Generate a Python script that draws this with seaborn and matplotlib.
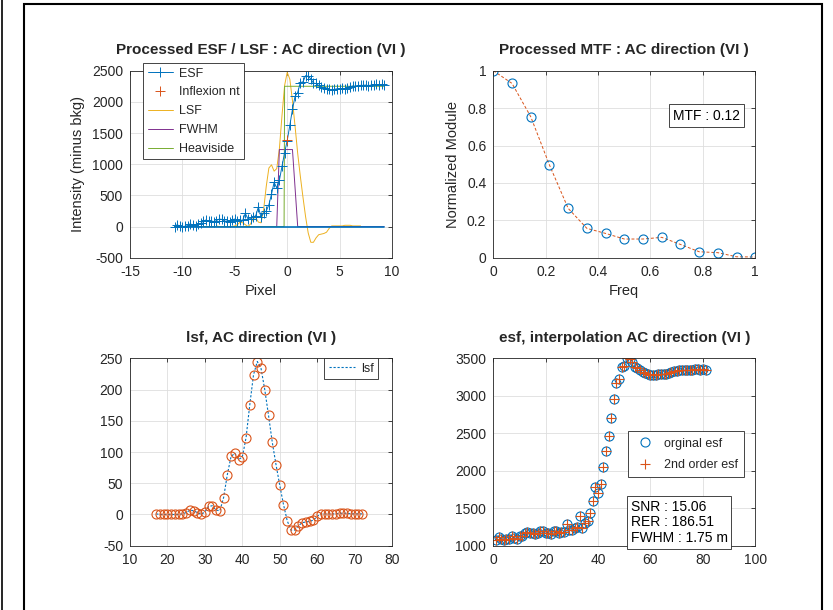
import numpy as np
import pandas as pd
import matplotlib
matplotlib.use('Agg')
import matplotlib.pyplot as plt
import seaborn as sns
from matplotlib.patches import Rectangle
from matplotlib.lines import Line2D

# MATLAB default colour order
BLUE = '#0072BD'
ORANGE = '#D95319'
YELLOW = '#EDB120'
PURPLE = '#7E2F8E'
GREEN = '#77AC30'
DARK = '#262626'

# esf samples (index 1..81)
esf_idx = np.arange(1, 82)
esf_orig = [1075, 1110, 1085, 1080, 1085, 1095, 1125, 1100, 1085, 1125,
            1130, 1170, 1185, 1165, 1170, 1160, 1175, 1200, 1195, 1165,
            1170, 1160, 1190, 1200, 1165, 1185, 1180, 1290, 1205, 1205,
            1230, 1255, 1395, 1230, 1300, 1330, 1430, 1600, 1790, 1700,
            1820, 2045, 2265, 2460, 2705, 2960, 3170, 3230, 3390, 3400,
            3500, 3490, 3450, 3380, 3375, 3345, 3320, 3300, 3290, 3280,
            3275, 3280, 3290, 3290, 3295, 3290, 3310, 3320, 3335, 3330,
            3340, 3345, 3345, 3350, 3340, 3350, 3355, 3360, 3350, 3360,
            3350]
esf_2nd = list(esf_orig)  # both series sit on top of each other

# lsf samples (index 17..72), bottom left panel
lsf_idx = np.arange(17, 73)
lsf_vals = [1, 0, 0, 0, 0, 0, 0, 1, 3, 7,
            6, 3, 0, 4, 13, 14, 7, 6, 27, 64,
            93, 98, 88, 92, 123, 176, 224, 245, 234, 200,
            159, 116, 80, 47, 16, -10, -25, -25, -18, -13,
            -12, -11, -9, -3, 1, 1, 1, 1, 1, 2,
            2, 2, 1, 1, 1, 1]

# processed ESF/LSF panel: pixel = (index - centre) / 4, intensity minus background
bkg = 1080
centre = 44
lsf_scale = 10.1
inflexion_x = [0.0]
inflexion_y = [1395]
fwhm_x = [-10.75, -1.0, -0.75, 0.5, 1.0, 9.25]
fwhm_y = [0, 0, 1235, 1235, 0, 0]
heav_x = [-10.75, -0.3, -0.25, 9.25]
heav_y = [0, 0, 2250, 2250]

# MTF
mtf_freq = np.arange(15) / 14
mtf_vals = [1.0, 0.932, 0.754, 0.496, 0.264, 0.157, 0.130, 0.100,
            0.100, 0.109, 0.071, 0.032, 0.027, 0.005, 0.004]

snr, rer, fwhm_m, mtf_txt = 15.06, 186.51, 1.75, 0.12

sns.set_theme(style='white')
plt.rcParams['font.family'] = ['Liberation Sans', 'DejaVu Sans']
plt.rcParams.update({
    'axes.edgecolor': DARK, 'axes.linewidth': 0.6,
    'axes.unicode_minus': False,
    'xtick.color': DARK, 'ytick.color': DARK,
    'xtick.labelsize': 10, 'ytick.labelsize': 10,
    'axes.labelcolor': DARK, 'axes.labelsize': 10.5,
    'axes.titlesize': 11, 'axes.titleweight': 'bold',
    'legend.fontsize': 9,
})

fig = plt.figure(figsize=(8.33, 6.10), dpi=100)
ax1 = fig.add_axes([0.1561, 0.5775, 0.3145, 0.3066])
ax2 = fig.add_axes([0.5922, 0.5775, 0.3145, 0.3066])
ax3 = fig.add_axes([0.1561, 0.1054, 0.3145, 0.3070])
ax4 = fig.add_axes([0.5922, 0.1054, 0.3145, 0.3070])


def style(ax):
    ax.grid(True, color='#dedede', lw=0.6)
    ax.set_axisbelow(True)
    ax.tick_params(direction='in', length=3, width=0.6, top=True, right=True, pad=5)
    for s in ax.spines.values():
        s.set_visible(True)


def legend_box(leg):
    leg.get_frame().set_linewidth(0.6)
    leg.get_frame().set_edgecolor(DARK)


# --- panel 1 ---
pix = (esf_idx - centre) / 4
esf_bkg = np.array(esf_2nd) - bkg
lsf_pix = (lsf_idx - centre) / 4
lsf_big = np.array(lsf_vals) * lsf_scale

sns.lineplot(x=lsf_pix, y=lsf_big, ax=ax1, color=YELLOW, lw=0.7, label='LSF',
             sort=False, estimator=None)
sns.lineplot(x=fwhm_x, y=fwhm_y, ax=ax1, color=PURPLE, lw=0.7, label='FWHM',
             sort=False, estimator=None)
sns.lineplot(x=heav_x, y=heav_y, ax=ax1, color=GREEN, lw=0.7, label='Heaviside',
             sort=False, estimator=None)
sns.lineplot(x=pix, y=esf_bkg, ax=ax1, color=BLUE, lw=0.7, marker='+', ms=7,
             mew=0.7, mec=BLUE, label='ESF', sort=False, estimator=None)
sns.lineplot(x=inflexion_x, y=inflexion_y, ax=ax1, color=ORANGE, lw=0, marker='+',
             ms=7, mew=0.7, mec=ORANGE, label='Inflexion nt', estimator=None)
sns.lineplot(x=[pix[0], pix[-1]], y=[0, 0], ax=ax1, color=BLUE, lw=1.2,
             label='_zero', estimator=None, zorder=3)
h, l = ax1.get_legend_handles_labels()
order = ['ESF', 'Inflexion nt', 'LSF', 'FWHM', 'Heaviside']
hd = dict(zip(l, h))
legend_box(ax1.legend([hd[k] for k in order], order, loc='upper left',
                      bbox_to_anchor=(0.05, 1.04), borderaxespad=0,
                      fancybox=False, framealpha=1, borderpad=0.35,
                      labelspacing=0.55, handlelength=2.0, handletextpad=0.5))
ax1.set_xlim(-15, 10)
ax1.set_ylim(-500, 2500)
ax1.set_xticks(np.arange(-15, 11, 5))
ax1.set_yticks(np.arange(-500, 2501, 500))
ax1.set_xlabel('Pixel', labelpad=4)
ax1.set_ylabel('Intensity (minus bkg)', labelpad=5)
ax1.set_title('Processed ESF / LSF : AC direction (VI )', pad=12)
style(ax1)

# --- panel 2 ---
sns.lineplot(x=mtf_freq, y=mtf_vals, ax=ax2, color=ORANGE, lw=0.7, ls=(0, (3, 2)),
             estimator=None)
sns.lineplot(x=mtf_freq, y=mtf_vals, ax=ax2, color=BLUE, lw=0, marker='o', ms=6.5,
             mfc='none', mec=BLUE, mew=0.8, estimator=None)
ax2.set_xlim(0, 1)
ax2.set_ylim(0, 1)
ax2.set_xticks(np.arange(0, 1.01, 0.2))
ax2.set_yticks(np.arange(0, 1.01, 0.2))
ax2.set_xticklabels(['0', '0.2', '0.4', '0.6', '0.8', '1'])
ax2.set_yticklabels(['0', '0.2', '0.4', '0.6', '0.8', '1'])
ax2.set_xlabel('Freq', labelpad=4)
ax2.set_ylabel('Normalized Module', labelpad=5)
ax2.set_title('Processed MTF : AC direction (VI )', pad=12)
ax2.text(0.815, 0.76, f'MTF : {mtf_txt:.2f}', transform=ax2.transAxes, fontsize=10,
         ha='center', va='center', color='black',
         bbox=dict(boxstyle='square,pad=0.3', fc='white', ec=DARK, lw=0.6))
style(ax2)

# --- panel 3 ---
sns.lineplot(x=lsf_idx, y=lsf_vals, ax=ax3, color=BLUE, lw=0.8, ls=(0, (2, 1.6)),
             label='lsf', estimator=None)
sns.lineplot(x=lsf_idx, y=lsf_vals, ax=ax3, color=ORANGE, lw=0, marker='o', ms=6.5,
             mfc='none', mec=ORANGE, mew=0.8, estimator=None, label='_pts')
legend_box(ax3.legend(loc='upper right', bbox_to_anchor=(0.948, 1.0), borderaxespad=0,
                      fancybox=False, framealpha=1, borderpad=0.35, handlelength=2.1,
                      handletextpad=0.5))
ax3.set_xlim(10, 80)
ax3.set_ylim(-50, 250)
ax3.set_xticks(np.arange(10, 81, 10))
ax3.set_yticks(np.arange(-50, 251, 50))
ax3.set_title('lsf, AC direction (VI )', pad=12)
style(ax3)

# --- panel 4 ---
sns.lineplot(x=esf_idx, y=esf_orig, ax=ax4, color=BLUE, lw=0, marker='o', ms=6.5,
             mfc='none', mec=BLUE, mew=0.8, estimator=None, label='orginal esf')
sns.lineplot(x=esf_idx, y=esf_2nd, ax=ax4, color=ORANGE, lw=0, marker='+', ms=6.5,
             mew=0.8, mec=ORANGE, estimator=None, label='2nd order esf')
legend_box(ax4.legend(loc='upper left', bbox_to_anchor=(0.514, 0.61), borderaxespad=0,
                      fancybox=False, framealpha=1, borderpad=0.5, labelspacing=0.75,
                      handlelength=1.8, handletextpad=0.6))
ax4.set_xlim(0, 100)
ax4.set_ylim(1000, 3500)
ax4.set_xticks(np.arange(0, 101, 20))
ax4.set_yticks(np.arange(1000, 3501, 500))
ax4.set_title('esf, interpolation AC direction (VI )', pad=12)
ax4.text(0.525, 0.245, f'SNR : {snr:.2f}\nRER : {rer:.2f}\nFWHM : {fwhm_m:.2f} m',
         transform=ax4.transAxes, fontsize=10, ha='left', va='top', color='black',
         linespacing=1.15,
         bbox=dict(boxstyle='square,pad=0.25', fc='white', ec=DARK, lw=0.6))
style(ax4)

# outer frame, like the exported MATLAB window
fig.add_artist(Rectangle((24 / 833, -0.05), (822 - 24) / 833, 1.05 - 4.5 / 610,
                         transform=fig.transFigure, fill=False, ec='black', lw=1.5))
fig.add_artist(Line2D([2 / 833, 2 / 833], [0, 1], transform=fig.transFigure,
                      color='black', lw=1.2))

fig.savefig('out.png', dpi=100)
